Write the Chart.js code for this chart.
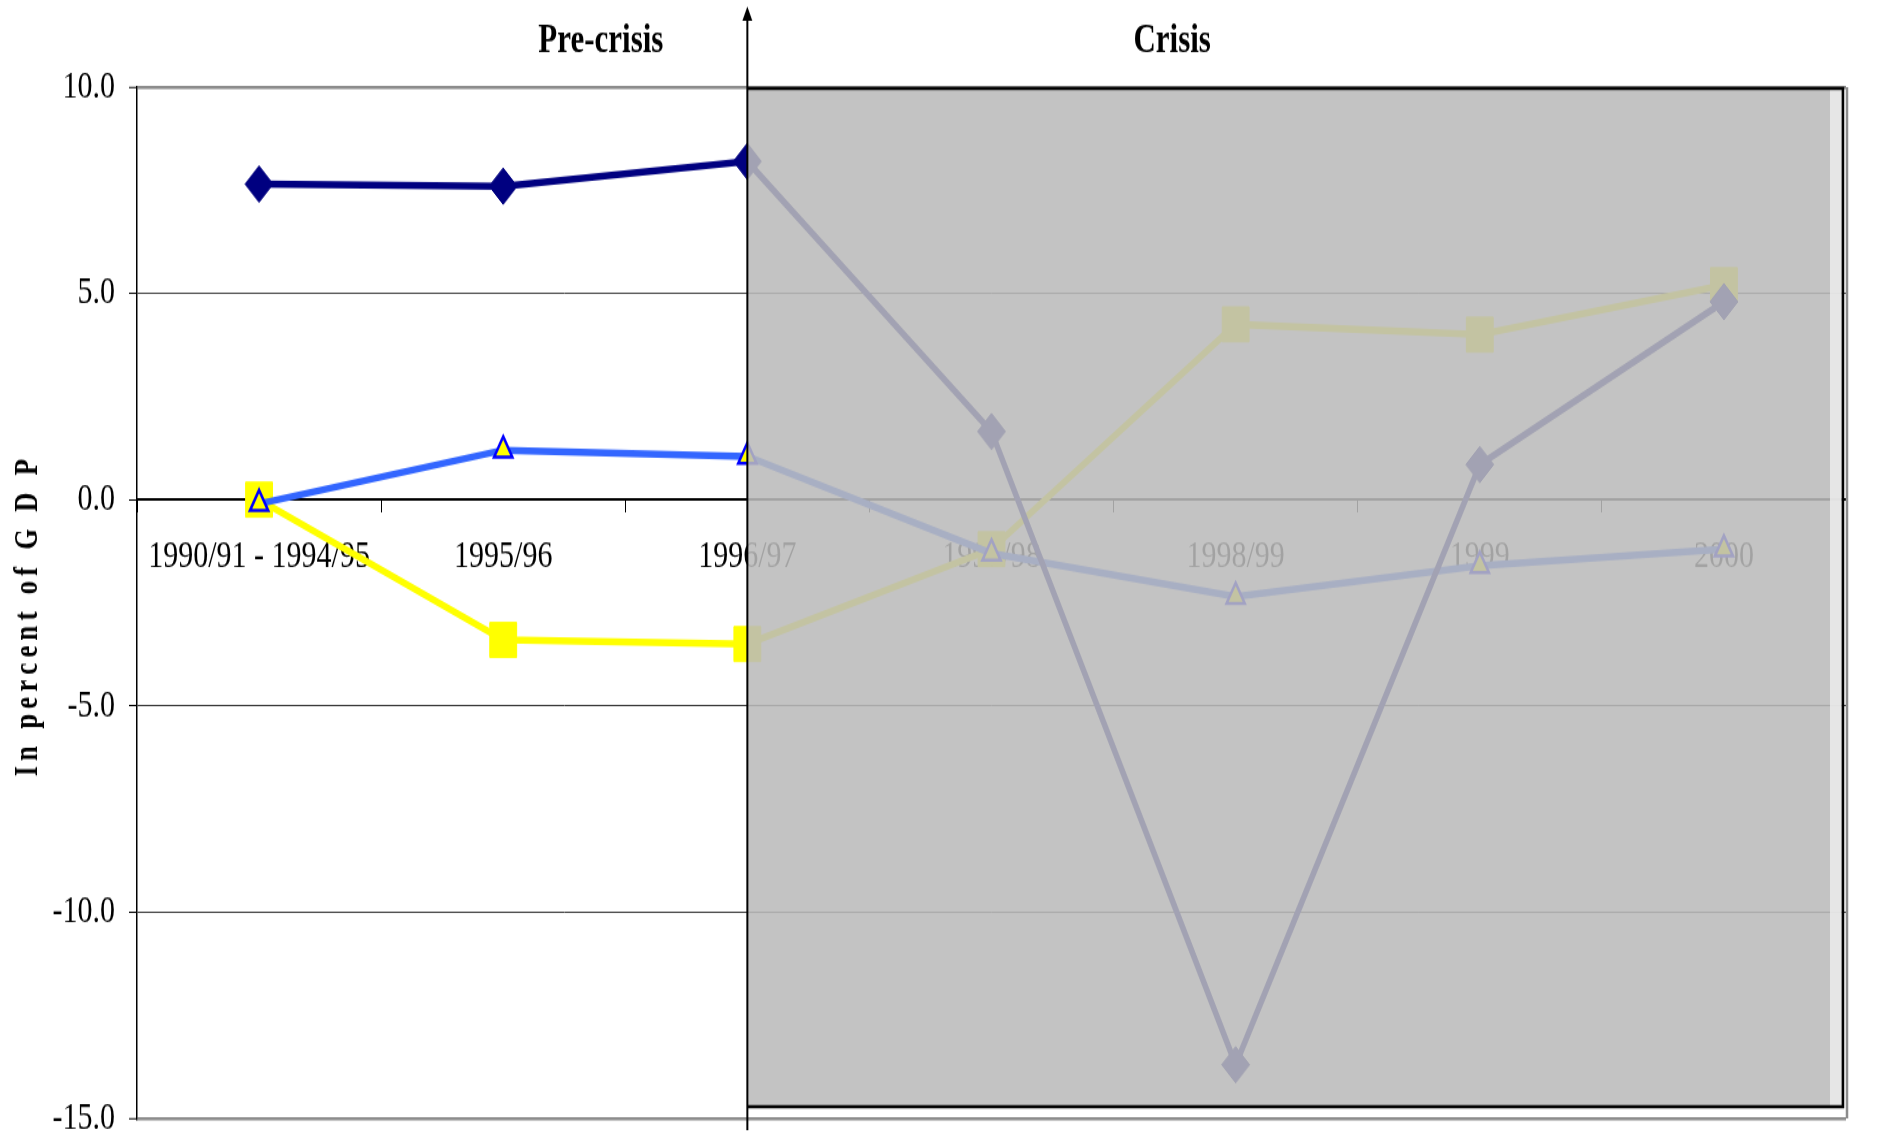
<!DOCTYPE html>
<html>
<head>
<meta charset="utf-8">
<title>Pre-crisis / Crisis</title>
<script src="https://cdn.jsdelivr.net/npm/chart.js@4.4.1/dist/chart.umd.min.js"></script>
<style>
  html, body { margin: 0; padding: 0; background: #fff; overflow: hidden; }
  /* original picture is stretched vertically, so the canvas is drawn short and stretched by css */
  #gdpChart { display: block; width: 1884px !important; height: 1134px !important; }
</style>
</head>
<body>
<canvas id="gdpChart" width="1884" height="872" style="width:1884px;height:1134px"></canvas>
<script>
const periods = ['1990/91 - 1994/95', '1995/96', '1996/97', '1997/98', '1998/99', '1999', '2000'];
const navySeries = [7.65, 7.6, 8.2, 1.65, -13.7, 0.85, 4.8];
const blueSeries = [-0.1, 1.2, 1.05, -1.3, -2.35, -1.6, -1.2];
const yellowSeries = [0.0, -3.4, -3.5, -1.2, 4.25, 4.0, 5.2];
const yTicks = [10, 5, 0, -5, -10, -15];
const phaseLabels = ['Pre-crisis', 'Crisis'];
const axisTitle = 'In percent of G D P';

const serif = '"Liberation Serif", "Times New Roman", serif';

// grey shaded "crisis" box, arrow, headings and the y title
const crisisOverlay = {
    id: 'crisisOverlay',
    afterDraw(chart) {
        const ctx = chart.ctx;
        const a = chart.chartArea;
        const x = chart.scales.x;
        const x0 = x.getPixelForValue(2);
        const x1 = a.right - 3;
        const y0 = a.top;
        const y1 = a.bottom - 9;

        ctx.save();
        ctx.fillStyle = 'rgba(186,186,186,0.87)';
        ctx.fillRect(x0, y0, x1 - x0, y1 - y0);
        ctx.fillStyle = 'rgba(236,236,236,0.85)';
        ctx.fillRect(x1 - 13, y0 + 2, 11, y1 - y0 - 3);

        ctx.strokeStyle = '#000';
        ctx.lineWidth = 2.5;
        ctx.beginPath();
        ctx.moveTo(x0, y0 + 1);
        ctx.lineTo(x1, y0 + 1);
        ctx.lineTo(x1, y1);
        ctx.lineTo(x0, y1);
        ctx.stroke();

        ctx.strokeStyle = '#8c8c8c';
        ctx.beginPath();
        ctx.moveTo(a.right + 1, a.top);
        ctx.lineTo(a.right + 1, a.bottom);
        ctx.stroke();

        // arrow
        ctx.strokeStyle = '#000';
        ctx.lineWidth = 2;
        ctx.beginPath();
        ctx.moveTo(x0, chart.height - 3);
        ctx.lineTo(x0, 12);
        ctx.stroke();
        ctx.fillStyle = '#000';
        ctx.beginPath();
        ctx.moveTo(x0, 5);
        ctx.lineTo(x0 - 5, 16);
        ctx.lineTo(x0 + 5, 16);
        ctx.closePath();
        ctx.fill();

        // headings
        ctx.font = 'bold 31px ' + serif;
        ctx.textAlign = 'center';
        ctx.textBaseline = 'alphabetic';
        ctx.fillText(phaseLabels[0], x.getPixelForValue(1.4), 40);
        ctx.fillText(phaseLabels[1], x.getPixelForValue(3.74), 40);

        // y title, narrow letters spread out
        ctx.translate(37, 475);
        ctx.rotate(-Math.PI / 2);
        ctx.font = 'bold 34px ' + serif;
        ctx.textAlign = 'left';
        const k = 0.6;
        const len = 244;
        const chars = axisTitle.split('');
        const widths = chars.map(c => ctx.measureText(c).width * k);
        const total = widths.reduce((s, w) => s + w, 0);
        const gap = (len - total) / (chars.length - 1);
        let pos = -len / 2;
        chars.forEach((c, i) => {
            ctx.save();
            ctx.translate(pos, 0);
            ctx.scale(k, 1);
            ctx.fillText(c, 0, 0);
            ctx.restore();
            pos += widths[i] + gap;
        });
        ctx.restore();
    }
};

const ctx1 = document.getElementById('gdpChart');

new Chart(ctx1, {
    type: 'line',
    data: {
        labels: periods,
        datasets: [{
            label: 'navy',
            data: navySeries,
            borderColor: '#000080',
            backgroundColor: '#000080',
            borderWidth: 5.5,
            pointStyle: 'rectRot',
            pointRadius: 14,
            pointBorderWidth: 1,
            tension: 0
        }, {
            label: 'blue',
            data: blueSeries,
            borderColor: '#3366ff',
            borderWidth: 5.5,
            pointStyle: 'triangle',
            pointRadius: 10.5,
            pointBackgroundColor: '#ffff00',
            pointBorderColor: '#0000ff',
            pointBorderWidth: 2.5,
            tension: 0
        }, {
            label: 'yellow',
            data: yellowSeries,
            borderColor: '#ffff00',
            backgroundColor: '#ffff00',
            borderWidth: 5.5,
            pointStyle: 'rect',
            pointRadius: 19,
            pointBorderWidth: 1,
            tension: 0
        }]
    },
    options: {
        responsive: false,
        animation: false,
        devicePixelRatio: 1,
        layout: {
            autoPadding: false,
            padding: { left: 0, right: 38, top: 67, bottom: 12 }
        },
        plugins: {
            legend: { display: false },
            tooltip: { enabled: false }
        },
        scales: {
            x: {
                type: 'category',
                position: { y: 0 },
                offset: true,
                afterFit: scale => { scale.paddingTop = 0; scale.paddingBottom = 0; },
                border: { display: true, color: '#000', width: 2 },
                grid: {
                    display: true,
                    offset: true,
                    drawOnChartArea: false,
                    drawTicks: true,
                    tickLength: 9,
                    tickColor: '#000',
                    tickWidth: 1
                },
                ticks: {
                    color: '#000',
                    font: { family: serif, size: 30 },
                    padding: 17,
                    maxRotation: 0,
                    autoSkip: false
                }
            },
            y: {
                min: -15,
                max: 10,
                afterBuildTicks: scale => { scale.ticks = yTicks.map(v => ({ value: v })); },
                afterFit: scale => {
                    scale.width = 137;
                    scale.paddingTop = 0;
                    scale.paddingBottom = 0;
                },
                border: { display: true, color: '#000', width: 1.5 },
                grid: {
                    color: c => {
                        const v = c.tick.value;
                        if (v === 10 || v === -15) return '#8c8c8c';
                        if (v === 0) return '#000';
                        return '#3c3c3c';
                    },
                    lineWidth: c => {
                        const v = c.tick.value;
                        return (v === 10 || v === -15) ? 2.5 : 1;
                    },
                    tickLength: 8,
                    tickColor: '#000',
                    tickWidth: 1
                },
                ticks: {
                    color: '#000',
                    font: { family: serif, size: 30 },
                    padding: 14,
                    callback: v => v.toFixed(1)
                }
            }
        }
    },
    plugins: [crisisOverlay]
});
</script>
</body>
</html>
